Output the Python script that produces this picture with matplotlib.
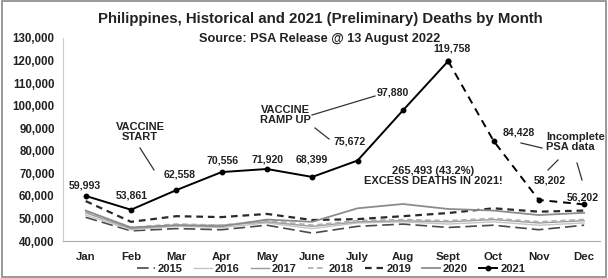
import matplotlib
matplotlib.use("Agg")
import matplotlib.pyplot as plt
from matplotlib.lines import Line2D
from matplotlib.patches import Rectangle

plt.rcParams['font.family'] = ['Liberation Sans', 'DejaVu Sans']

months = ["Jan", "Feb", "Mar", "Apr", "May", "June", "July", "Aug", "Sept", "Oct", "Nov", "Dec"]
y2015 = [50500, 44500, 45500, 45000, 47000, 43500, 46500, 47500, 46000, 47000, 45000, 47000]
y2016 = [51500, 45000, 46500, 46000, 48000, 45500, 48000, 48500, 47500, 48500, 47000, 48000]
y2017 = [52500, 45500, 47000, 47000, 48500, 46500, 48500, 49000, 48500, 49500, 48000, 49000]
y2018 = [53000, 46000, 47500, 47000, 49000, 47000, 49000, 49500, 49000, 50000, 48500, 49500]
y2019 = [57700, 48500, 51000, 50600, 52000, 49300, 49700, 51000, 52400, 54500, 53000, 53500]
y2020 = [53500, 46000, 47000, 46500, 49500, 48500, 54500, 56400, 54200, 53500, 51500, 52500]
y2021 = [59993, 53861, 62558, 70556, 71920, 68399, 75672, 97880, 119758, 84428, 58202, 56202]
labels2021 = ["59,993", "53,861", "62,558", "70,556", "71,920", "68,399", "75,672",
              "97,880", "119,758", "84,428", "58,202", "56,202"]
yticks = [40000, 50000, 60000, 70000, 80000, 90000, 100000, 110000, 120000, 130000]

W, H = 608, 278
fig = plt.figure(figsize=(W / 100, H / 100), dpi=100)


def fx(px):
    return px / W


def fy(py):
    return 1 - py / H


ax = fig.add_axes([fx(63), fy(241), fx(600) - fx(63), fy(38) - fy(241)])
x = list(range(12))

ax.plot(x, y2015, color='#4a4a4a', lw=1.2, ls=(0, (7, 3)), label='2015')
ax.plot(x, y2016, color='#c4c4c4', lw=1.0, ls='-', label='2016')
ax.plot(x, y2017, color='#9a9a9a', lw=1.0, ls='-', label='2017')
ax.plot(x, y2018, color='#b0b0b0', lw=1.3, ls=(0, (3, 2)), label='2018')
ax.plot(x, y2019, color='#2a2a2a', lw=1.6, ls=(0, (3, 2.2)), label='2019')
ax.plot(x, y2020, color='#8c8c8c', lw=1.3, ls='-', label='2020')
ax.plot(x[:9], y2021[:9], color='black', lw=1.4, ls='-', marker='o', ms=3.2, label='2021')
ax.plot(x[8:], y2021[8:], color='black', lw=1.4, ls=(0, (4, 3)), marker='o', ms=3.2)

# data labels (offset in pixels from each point)
offs = [(-1, 10), (1, 14), (3, 16), (1, 12), (1, 10), (0, 17), (-8, 19),
        (-10, 18), (4, 13), (25, 8), (11, 19), (-1, 7)]
for xi, yi, lab, (dx, dy) in zip(x, y2021, labels2021, offs):
    ax.annotate(lab, (xi, yi), xytext=(dx, dy), textcoords='offset pixels',
                ha='center', va='center', fontsize=7.6, fontweight='bold', color='#222222')

ax.set_xlim(-0.5, 11.35)
ax.set_ylim(40000, 130000)
ax.set_yticks(yticks)
ax.set_yticklabels([f"{v:,}" for v in yticks], fontsize=8.3, fontweight='bold', color='#222222')
ax.set_xticks(x)
ax.set_xticklabels(months, fontsize=8.2, fontweight='bold', color='#222222')
ax.tick_params(length=0, pad=6)
ax.tick_params(axis='x', pad=8)
for s in ['top', 'right']:
    ax.spines[s].set_visible(False)
ax.spines['left'].set_color('#cccccc')
ax.spines['bottom'].set_color('#aaaaaa')

fig.text(fx(320), fy(19), "Philippines, Historical and 2021 (Preliminary) Deaths by Month",
         ha='center', va='center', fontsize=10.8, fontweight='bold', color='#222222')
fig.text(fx(320), fy(39), "Source: PSA Release @ 13 August 2022",
         ha='center', va='center', fontsize=9.2, fontweight='bold', color='#222222')

tk = dict(fontsize=8, fontweight='bold', color='#222222', linespacing=1.05)
fig.text(fx(140), fy(132), "VACCINE\nSTART", ha='center', va='center', **tk)
fig.text(fx(285), fy(115), "VACCINE\nRAMP UP", ha='center', va='center', **tk)
fig.text(fx(546), fy(142), "Incomplete\nPSA data", ha='left', va='center', **tk)
fig.text(fx(433), fy(176), "265,493 (43.2%)\nEXCESS DEATHS IN 2021!", ha='center', va='center', **tk)

segs = [((140, 148), (154, 170)), ((312, 115), (375, 96)), ((315, 128), (329, 139)),
        ((521, 143), (542, 148)), ((558, 160), (548, 170)), ((577, 163), (582, 180))]
for (x0, y0), (x1, y1) in segs:
    fig.add_artist(Line2D([fx(x0), fx(x1)], [fy(y0), fy(y1)], transform=fig.transFigure,
                          color='#333333', lw=0.9))

leg = ax.legend(loc='center', bbox_to_anchor=(fx(331), fy(269)), bbox_transform=fig.transFigure,
                ncol=7, frameon=False, handlelength=1.6, handletextpad=0.3,
                columnspacing=1.0, prop={'weight': 'bold', 'size': 8})
for t in leg.get_texts():
    t.set_color('#222222')

fig.add_artist(Rectangle((0.003, 0.005), 0.994, 0.99, transform=fig.transFigure,
                         fill=False, edgecolor='#888888', lw=1.2))

fig.savefig("out.png", dpi=100)
